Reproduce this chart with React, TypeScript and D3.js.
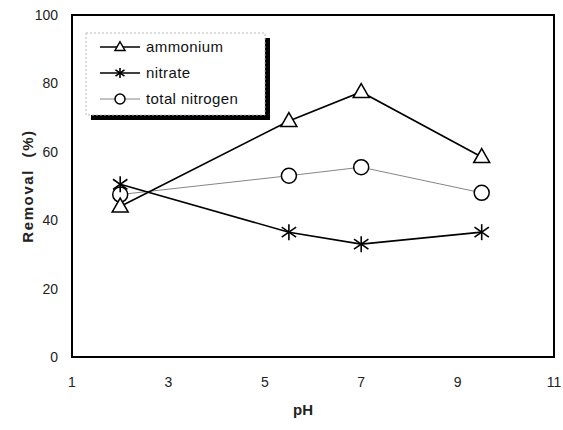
import React from "react";
import * as d3 from "d3";

const phValues = [2, 5.5, 7, 9.5];
const ammonium = [44, 69, 77.5, 58.5];
const nitrate = [50.5, 36.5, 33, 36.5];
const totalNitrogen = [47.5, 53, 55.5, 48];
const xTicks = [1, 3, 5, 7, 9, 11];
const yTicks = [0, 20, 40, 60, 80, 100];
const legendLabels = ["ammonium", "nitrate", "total nitrogen"];

const W = 563, H = 430;
const M = { left: 72, top: 15, right: 554, bottom: 357 };
const FONT = "'Liberation Sans', Arial, sans-serif";

function Triangle({ x, y, s = 8 }: { x: number; y: number; s?: number }) {
  const h = s * 1.75;
  return (
    <path
      d={`M${x},${y - h * 0.6} L${x + s},${y + h * 0.4} L${x - s},${y + h * 0.4} Z`}
      fill="white"
      stroke="black"
      strokeWidth={1.5}
    />
  );
}

function Star({ x, y, s = 7 }: { x: number; y: number; s?: number }) {
  const d = s * 0.9;
  return (
    <g stroke="black" strokeWidth={1.6}>
      <line x1={x} y1={y - s} x2={x} y2={y + s} />
      <line x1={x - d} y1={y - d * 0.7} x2={x + d} y2={y + d * 0.7} />
      <line x1={x - d} y1={y + d * 0.7} x2={x + d} y2={y - d * 0.7} />
    </g>
  );
}

function Circ({ x, y, r = 7.5 }: { x: number; y: number; r?: number }) {
  return <circle cx={x} cy={y} r={r} fill="white" stroke="black" strokeWidth={1.5} />;
}

export default function App() {
  const x = d3.scaleLinear().domain([1, 11]).range([M.left, M.right]);
  const y = d3.scaleLinear().domain([0, 100]).range([M.bottom, M.top]);
  const line = d3
    .line<[number, number]>()
    .x((d) => x(d[0]))
    .y((d) => y(d[1]));
  const pts = (vals: number[]) => phValues.map((p, i) => [p, vals[i]] as [number, number]);

  const legX = 86, legY = 33, legW = 179, legH = 82;
  const rows = [47, 73, 99];

  return (
    <svg
      width={W}
      height={H}
      style={{ position: "absolute", left: 0, top: 0, background: "white" }}
      fontFamily={FONT}
    >
      <rect x={0} y={0} width={W} height={H} fill="white" />
      {/* frame */}
      <rect
        x={M.left}
        y={M.top}
        width={M.right - M.left}
        height={M.bottom - M.top}
        fill="none"
        stroke="black"
        strokeWidth={2}
      />
      {/* y ticks */}
      {yTicks.map((t) => (
        <text key={t} x={58} y={y(t)} dy="0.35em" textAnchor="end" fontSize={14} fill="#222">
          {t}
        </text>
      ))}
      {/* x ticks */}
      {xTicks.map((t) => (
        <text key={t} x={x(t)} y={382} dy="0.35em" textAnchor="middle" fontSize={14} fill="#222">
          {t}
        </text>
      ))}
      <text
        transform={`translate(28,186) rotate(-90)`}
        textAnchor="middle"
        dy="0.35em"
        fontSize={15}
        fontWeight="bold"
        fill="#222"
        letterSpacing={1.6}
        style={{ whiteSpace: "pre" }}
      >
        {"Removal  (%)"}
      </text>
      <text x={303} y={410} dy="0.35em" textAnchor="middle" fontSize={15} fontWeight="bold" fill="#222">
        pH
      </text>

      {/* lines */}
      <path d={line(pts(totalNitrogen)) || ""} fill="none" stroke="#777" strokeWidth={0.9} />
      <path d={line(pts(ammonium)) || ""} fill="none" stroke="black" strokeWidth={1.6} />
      <path d={line(pts(nitrate)) || ""} fill="none" stroke="black" strokeWidth={1.6} />

      {/* markers */}
      {pts(totalNitrogen).map((d, i) => (
        <Circ key={"c" + i} x={x(d[0])} y={y(d[1])} />
      ))}
      {pts(ammonium).map((d, i) => (
        <Triangle key={"t" + i} x={x(d[0])} y={y(d[1])} />
      ))}
      {pts(nitrate).map((d, i) => (
        <Star key={"s" + i} x={x(d[0])} y={y(d[1])} s={8} />
      ))}

      {/* legend */}
      <rect x={legX + 5} y={legY + 5} width={legW} height={legH} fill="black" />
      <rect x={legX} y={legY} width={legW} height={legH} fill="white" stroke="#bbb" strokeWidth={1} strokeDasharray="2,2" />
      <line x1={100} y1={rows[0]} x2={140} y2={rows[0]} stroke="black" strokeWidth={1.6} />
      <Triangle x={120} y={rows[0]} s={5} />
      <line x1={100} y1={rows[1]} x2={140} y2={rows[1]} stroke="black" strokeWidth={1.6} />
      <Star x={120} y={rows[1]} s={5} />
      <line x1={100} y1={rows[2]} x2={140} y2={rows[2]} stroke="#777" strokeWidth={0.9} />
      <Circ x={120} y={rows[2]} r={5} />
      {legendLabels.map((l, i) => (
        <text key={l} x={146} y={rows[i]} dy="0.35em" fontSize={15} fill="#111" letterSpacing={0.4}>
          {l}
        </text>
      ))}
    </svg>
  );
}
